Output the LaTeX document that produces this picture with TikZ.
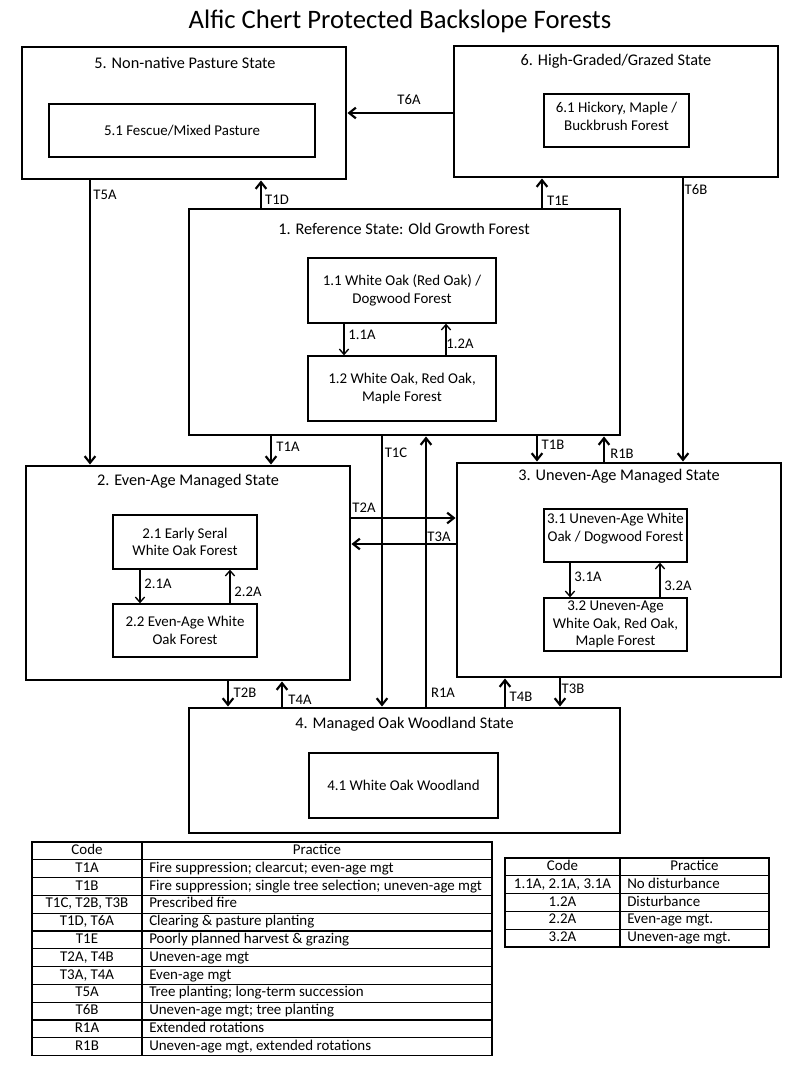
\documentclass[tikz,border=0pt]{standalone}
\usepackage{fontspec}
\setmainfont{Carlito}
\usetikzlibrary{fit,arrows.meta}

\begin{document}
\begin{tikzpicture}[x=0.75pt,y=-0.75pt,
        state/.style={draw, line width=2.2pt, inner sep=0pt},
        phase/.style={draw, line width=1pt, inner sep=0pt, align=center, font=\fontsize{11.2}{13.1}\selectfont},
        head/.style={font=\fontsize{12.2}{14}\selectfont},
        lbl/.style={font=\fontsize{11}{13}\selectfont, inner sep=0pt},
        tr/.style={line width=1.6pt, -{Straight Barb[length=5pt,width=8pt]}},
        ph/.style={line width=1pt, -{Straight Barb[length=4pt,width=7pt]}},
        cell/.style={font=\fontsize{11.2}{13}\selectfont, inner sep=0pt, text height=1.6ex, text depth=.45ex}]
        \useasboundingbox (0,0) rectangle (800,1067);

        \node[font=\fontsize{20}{24}\selectfont] (title) at (400,21) {Alfic Chert Protected Backslope Forests};

        % states
        \node[state, fit={(22,47) (346,179)}] (s5) {};
        \node[state, fit={(454,46) (778,177)}] (s6) {};
        \node[state, fit={(189,209) (620,435)}] (s1) {};
        \node[state, fit={(26,466) (350,680)}] (s2) {};
        \node[state, fit={(457,463) (781,677)}] (s3) {};
        \node[state, fit={(189,708) (620,833)}] (s4) {};

        \node[head] (s5t) at (185,63) {5. Non-native Pasture State};
        \node[head] (s6t) at (616,61) {6. High-Graded/Grazed State};
        \node[head] (s1t) at (404,229) {1. Reference State: Old Growth Forest};
        \node[head] (s2t) at (188,481) {2. Even-Age Managed State};
        \node[head] (s3t) at (619,476) {3. Uneven-Age Managed State};
        \node[head] (s4t) at (404.5,724) {4. Managed Oak Woodland State};

        % phases
        \node[phase, minimum width=199.5pt, minimum height=39.75pt] (s51) at (182,130.5) {5.1 Fescue/Mixed Pasture};
        \node[phase, minimum width=108.75pt, minimum height=39.75pt] (s61) at (616.5,120.5) {6.1 Hickory, Maple /\\Buckbrush Forest\\[-7pt]};
        \node[phase, minimum width=141pt, minimum height=48.75pt] (s11) at (402,290.5) {1.1 White Oak (Red Oak) /\\Dogwood Forest};
        \node[phase, minimum width=141pt, minimum height=48.75pt] (s12) at (402,388.5) {1.2 White Oak, Red Oak,\\Maple Forest};
        \node[phase, minimum width=108pt, minimum height=40.5pt] (s21) at (185,542) {2.1 Early Seral\\White Oak Forest};
        \node[phase, minimum width=108pt, minimum height=39.75pt] (s22) at (185,630.5) {2.2 Even-Age White\\Oak Forest};
        \node[phase, minimum width=107.25pt, minimum height=39.75pt] (s31) at (615.5,535.5) {3.1 Uneven-Age White\\Oak / Dogwood Forest\\[-1pt]};
        \node[phase, minimum width=107.25pt, minimum height=39.75pt] (s32) at (615.5,624.5) {3.2 Uneven-Age\\White Oak, Red Oak,\\Maple Forest};
        \node[phase, minimum width=141.75pt, minimum height=48.75pt] (s41) at (403.5,785.5) {4.1 White Oak Woodland};

        % transitions
        \draw[tr] (s6.west |- 0,113) -- (s5.east |- 0,113);
        \draw[tr] (90,0 |- s5.south) -- (90,0 |- s2.north);
        \draw[tr] (261,0 |- s1.north) -- (261,0 |- s5.south);
        \draw[tr] (542,0 |- s1.north) -- (542,0 |- s6.south);
        \draw[tr] (683,0 |- s6.south) -- (683,0 |- s3.north);
        \draw[tr] (271,0 |- s1.south) -- (271,0 |- s2.north);
        \draw[tr] (382,0 |- s1.south) -- (382,0 |- s4.north);
        \draw[tr] (426,0 |- s4.north) -- (426,0 |- s1.south);
        \draw[tr] (537,0 |- s1.south) -- (537,0 |- s3.north);
        \draw[tr] (604,0 |- s3.north) -- (604,0 |- s1.south);
        \draw[tr] (s2.east |- 0,518) -- (s3.west |- 0,518);
        \draw[tr] (s3.west |- 0,544) -- (s2.east |- 0,544);
        \draw[tr] (228,0 |- s2.south) -- (228,0 |- s4.north);
        \draw[tr] (282,0 |- s4.north) -- (282,0 |- s2.south);
        \draw[tr] (505,0 |- s4.north) -- (505,0 |- s3.south);
        \draw[tr] (560,0 |- s3.south) -- (560,0 |- s4.north);

        % phase pathways
        \draw[ph] (344,0 |- s11.south) -- (344,0 |- s12.north);
        \draw[ph] (446,0 |- s12.north) -- (446,0 |- s11.south);
        \draw[ph] (140,0 |- s21.south) -- (140,0 |- s22.north);
        \draw[ph] (230,0 |- s22.north) -- (230,0 |- s21.south);
        \draw[ph] (570,0 |- s31.south) -- (570,0 |- s32.north);
        \draw[ph] (660,0 |- s32.north) -- (660,0 |- s31.south);

        \node[lbl] (t6a) at (409,100) {T6A};
        \node[lbl] (t5a) at (105,195) {T5A};
        \node[lbl] (t1d) at (277,200) {T1D};
        \node[lbl] (t1e) at (558,201) {T1E};
        \node[lbl] (t6b) at (696,190) {T6B};
        \node[lbl] (p11a) at (362,335) {1.1A};
        \node[lbl] (p12a) at (460,344) {1.2A};
        \node[lbl] (t1a) at (288,447) {T1A};
        \node[lbl] (t1c) at (396,453) {T1C};
        \node[lbl] (t1b) at (553,445) {T1B};
        \node[lbl] (r1b) at (622,454) {R1B};
        \node[lbl] (t2a) at (364,508) {T2A};
        \node[lbl] (t3a) at (439,537) {T3A};
        \node[lbl] (p21a) at (158,584) {2.1A};
        \node[lbl] (p22a) at (248,592) {2.2A};
        \node[lbl] (p31a) at (588,577) {3.1A};
        \node[lbl] (p32a) at (678,586) {3.2A};
        \node[lbl] (t2b) at (245,693) {T2B};
        \node[lbl] (t4a) at (300,700) {T4A};
        \node[lbl] (r1a) at (443,693) {R1A};
        \node[lbl] (t4b) at (521,697) {T4B};
        \node[lbl] (t3b) at (573,689) {T3B};

        % transition table
        \draw[line width=1.2pt] (32,842) rectangle (492,1055.6);
        \draw[line width=1pt] (142,842) -- (142,1055.6);
        \foreach \k in {1,...,11}
            \draw[line width=1pt] (32,842+17.8*\k) -- (492,842+17.8*\k);
        \node[cell] (c0) at (87,850.9) {Code};
        \node[cell] (p0) at (317,850.9) {Practice};
        \foreach \c/\p [count=\i] in {T1A/{Fire suppression; clearcut; even-age mgt},
                T1B/{Fire suppression; single tree selection; uneven-age mgt},
                {T1C, T2B, T3B}/{Prescribed fire},
                {T1D, T6A}/{Clearing \& pasture planting},
                T1E/{Poorly planned harvest \& grazing},
                {T2A, T4B}/{Uneven-age mgt},
                {T3A, T4A}/{Even-age mgt},
                T5A/{Tree planting; long-term succession},
                T6B/{Uneven-age mgt; tree planting},
                R1A/{Extended rotations},
                R1B/{Uneven-age mgt, extended rotations}} {
            \node[cell] (c\i) at (87,850.9+17.8*\i) {\c};
            \node[cell, anchor=west] (p\i) at (149,850.9+17.8*\i) {\p};
        }

        % pathway table
        \draw[line width=1.2pt] (505,858) rectangle (769,947);
        \draw[line width=1pt] (620,858) -- (620,947);
        \foreach \k in {1,...,4}
            \draw[line width=1pt] (505,858+17.8*\k) -- (769,858+17.8*\k);
        \node[cell] (d0) at (562.5,866.9) {Code};
        \node[cell] (q0) at (694.5,866.9) {Practice};
        \foreach \c/\p [count=\i] in {{1.1A, 2.1A, 3.1A}/{No disturbance},
                1.2A/Disturbance,
                2.2A/{Even-age mgt.},
                3.2A/{Uneven-age mgt.}} {
            \node[cell] (d\i) at (562.5,866.9+17.8*\i) {\c};
            \node[cell, anchor=west] (q\i) at (627,866.9+17.8*\i) {\p};
        }

    \end{tikzpicture}
\end{document}
